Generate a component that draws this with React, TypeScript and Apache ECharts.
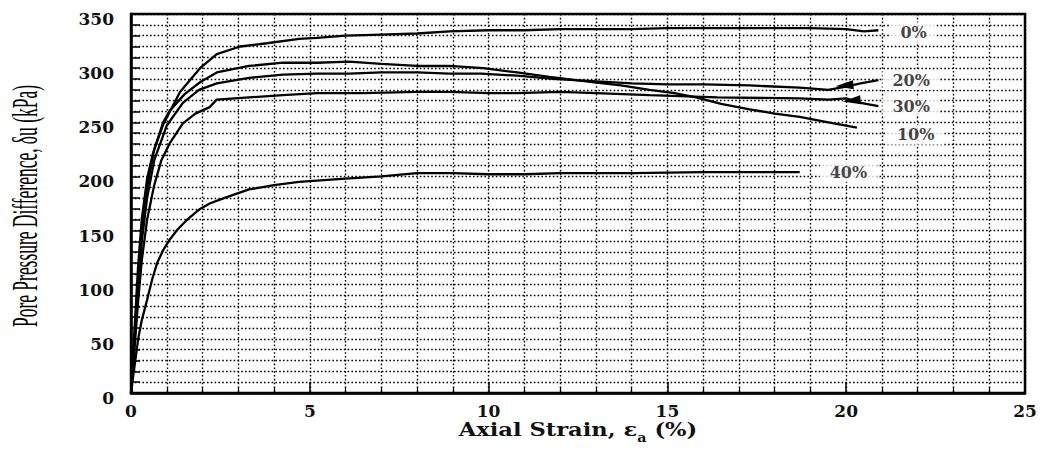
import React, { useEffect, useRef } from "react";
import * as echarts from "echarts";

// Axial strain (%) / pore pressure difference (kPa) pairs
const curve0: [number, number][] = [
  [0, 0], [0.1, 60], [0.2, 118], [0.3, 160], [0.45, 198], [0.62, 222], [0.9, 248], [1.37, 278],
  [1.93, 300], [2.4, 313], [3.05, 320], [3.8, 323], [4.7, 327], [5.2, 328], [6, 330], [7, 331],
  [8, 332], [8.9, 334], [10, 335], [11, 335], [12, 336], [13, 336], [14, 336], [15, 337],
  [16, 337], [17, 337], [18, 337], [19, 337], [20, 336], [20.5, 334], [20.9, 335],
];
const curve10: [number, number][] = [
  [0, 0], [0.1, 52], [0.2, 105], [0.3, 150], [0.45, 190], [0.65, 225], [0.9, 250], [1.09, 261],
  [1.5, 276], [1.93, 287], [2.4, 296], [3.3, 302], [4.25, 305], [5.2, 305], [6.1, 306], [7, 304],
  [8, 302], [8.9, 302], [9.85, 300], [10.8, 296], [11.7, 292], [12.9, 287], [13.7, 284],
  [14.5, 280], [15.2, 277], [15.8, 273], [16.5, 267], [17.3, 262], [18, 258], [18.7, 255],
  [19.5, 250], [20.3, 245],
];
const curve20: [number, number][] = [
  [0, 0], [0.1, 48], [0.2, 96], [0.3, 140], [0.45, 180], [0.65, 215], [1.0, 247], [1.45, 268],
  [1.9, 280], [2.4, 286], [3.3, 291], [4.25, 294], [5.2, 295], [6.1, 295], [7, 296], [8, 296],
  [8.9, 295], [9.8, 295], [10.8, 293], [11.8, 290], [12.9, 288], [14, 286], [15, 285], [16, 285],
  [17.3, 284], [18.7, 282], [19.5, 280], [20, 283], [20.4, 286], [20.9, 289],
];
const curve30: [number, number][] = [
  [0, 0], [0.1, 42], [0.2, 85], [0.3, 122], [0.45, 160], [0.65, 192], [0.85, 215], [1.09, 231],
  [1.45, 249], [1.8, 258], [2.2, 264], [2.4, 271], [3.3, 273], [4.25, 275], [5.2, 277],
  [6.5, 277], [8, 278], [8.9, 278], [10, 277], [10.8, 277], [12, 278], [13, 277], [14.5, 275],
  [16.4, 273], [18.7, 272], [19.5, 271], [20, 272], [20.4, 268], [20.9, 265],
];
const curve40: [number, number][] = [
  [0, 0], [0.1, 25], [0.2, 50], [0.3, 67], [0.45, 86], [0.6, 106], [0.73, 120], [0.9, 132],
  [1.09, 142], [1.3, 151], [1.57, 160], [1.93, 170], [2.2, 175], [2.6, 180], [3.3, 188], [4, 192],
  [4.7, 195], [6, 198], [7, 200], [8, 203], [9, 203], [10, 202], [11, 202], [12, 203], [14, 203],
  [16, 204], [18, 204], [18.7, 204],
];

const seriesNames = ["0%", "10%", "20%", "30%", "40%"];
const seriesData = [curve0, curve10, curve20, curve30, curve40];

// arrowhead blobs drawn on the 20% and 30% curves near their ends
const arrowMarks: { series: number; at: [number, number] }[] = [
  { series: 2, at: [19.95, 284] },
  { series: 3, at: [20.15, 270] },
];

// label offsets (px) from each curve's last point
const labelOffsets: [number, number][] = [
  [12, 2], [30, 7], [4, 0], [4, 0], [20, 0],
];

const xTitle = "Axial Strain, ε";
const xTitleSub = "a";
const xTitleEnd = " (%)";
const yTitle = "Pore Pressure Difference, δu (kPa)";

export default function App() {
  const ref = useRef<HTMLDivElement>(null);
  useEffect(() => {
    if (!ref.current) return;
    const chart = echarts.init(ref.current, undefined, { renderer: "svg" });
    const dotted = { color: "#000", width: 1.4, type: [1.6, 2.2] as number[] };
    const labelFont = {
      color: "#111",
      fontFamily: "DejaVu Serif",
      fontWeight: "bold" as const,
      fontSize: 17,
    };
    const lineSeries = seriesData.map((d, i) => {
      const arrows = arrowMarks.filter((a) => a.series === i);
      return {
        type: "line",
        name: seriesNames[i],
        data: d,
        showSymbol: false,
        symbol: "none",
        smooth: false,
        lineStyle: { color: "#000", width: 2.3 },
        z: 3,
        markPoint: arrows.length
          ? {
              silent: true,
              symbol: "triangle",
              symbolSize: [9, 18],
              symbolRotate: 95,
              itemStyle: { color: "#000" },
              label: { show: false },
              data: arrows.map((a) => ({ coord: a.at })),
            }
          : undefined,
      };
    });
    const labelSeries = seriesData.map((d, i) => ({
      type: "scatter",
      name: seriesNames[i] + " label",
      data: [d[d.length - 1]],
      symbolSize: 0,
      silent: true,
      label: {
        show: true,
        position: "right",
        distance: 0,
        offset: labelOffsets[i],
        formatter: seriesNames[i],
        color: "#111",
        fontFamily: "DejaVu Serif",
        fontWeight: "bold",
        fontSize: 16,
        backgroundColor: "#fff",
        padding: [2, 10, 2, 10],
      },
      z: 4,
    }));
    chart.setOption({
      animation: false,
      backgroundColor: "#fff",
      grid: {
        left: 131,
        right: 20,
        top: 14,
        bottom: 60,
        show: true,
        borderColor: "#000",
        borderWidth: 2.5,
      },
      xAxis: {
        type: "value",
        min: 0,
        max: 25,
        interval: 5,
        axisLine: { show: true, onZero: false, lineStyle: { color: "#000", width: 2.5 } },
        axisTick: { show: true, inside: true, length: 11, lineStyle: { color: "#000", width: 1.5 } },
        minorTick: { show: true, splitNumber: 5, length: 6, lineStyle: { color: "#000", width: 1.2 } },
        splitLine: { show: true, lineStyle: dotted },
        minorSplitLine: { show: true, lineStyle: dotted },
        axisLabel: { ...labelFont, margin: 9 },
      },
      yAxis: {
        type: "value",
        min: 0,
        max: 350,
        interval: 50,
        axisLine: { show: true, onZero: false, lineStyle: { color: "#000", width: 2.5 } },
        axisTick: { show: true, inside: true, length: 9, lineStyle: { color: "#000", width: 1.5 } },
        minorTick: { show: true, splitNumber: 5, length: 9, lineStyle: { color: "#000", width: 1.5 } },
        splitLine: { show: true, lineStyle: dotted },
        minorSplitLine: { show: true, lineStyle: dotted },
        axisLabel: { ...labelFont, margin: 17, verticalAlign: "top", lineHeight: 10 },
      },
      graphic: [
        {
          type: "text",
          x: 25,
          y: 206,
          rotation: Math.PI / 2,
          scaleX: 0.485,
          style: {
            text: yTitle,
            fontFamily: "Liberation Serif",
            fontSize: 36,
            fill: "#000",
            align: "center",
            verticalAlign: "middle",
          },
        },
        {
          type: "text",
          x: 578,
          y: 429,
          scaleX: 1.19,
          style: {
            text: `{t|${xTitle}}{s|${xTitleSub}}{t|${xTitleEnd}}`,
            align: "center",
            verticalAlign: "middle",
            fill: "#111",
            rich: {
              t: {
                fontFamily: "DejaVu Serif",
                fontWeight: "bold",
                fontSize: 19,
                fill: "#111",
                lineHeight: 22,
              },
              s: {
                fontFamily: "DejaVu Serif",
                fontWeight: "bold",
                fontSize: 12,
                fill: "#111",
                lineHeight: 30,
                verticalAlign: "bottom",
              },
            },
          },
        },
      ],
      series: [...lineSeries, ...labelSeries],
    });
    return () => chart.dispose();
  }, []);
  return <div ref={ref} style={{ width: 1045, height: 453, marginLeft: -8, marginTop: -8 }} />;
}
